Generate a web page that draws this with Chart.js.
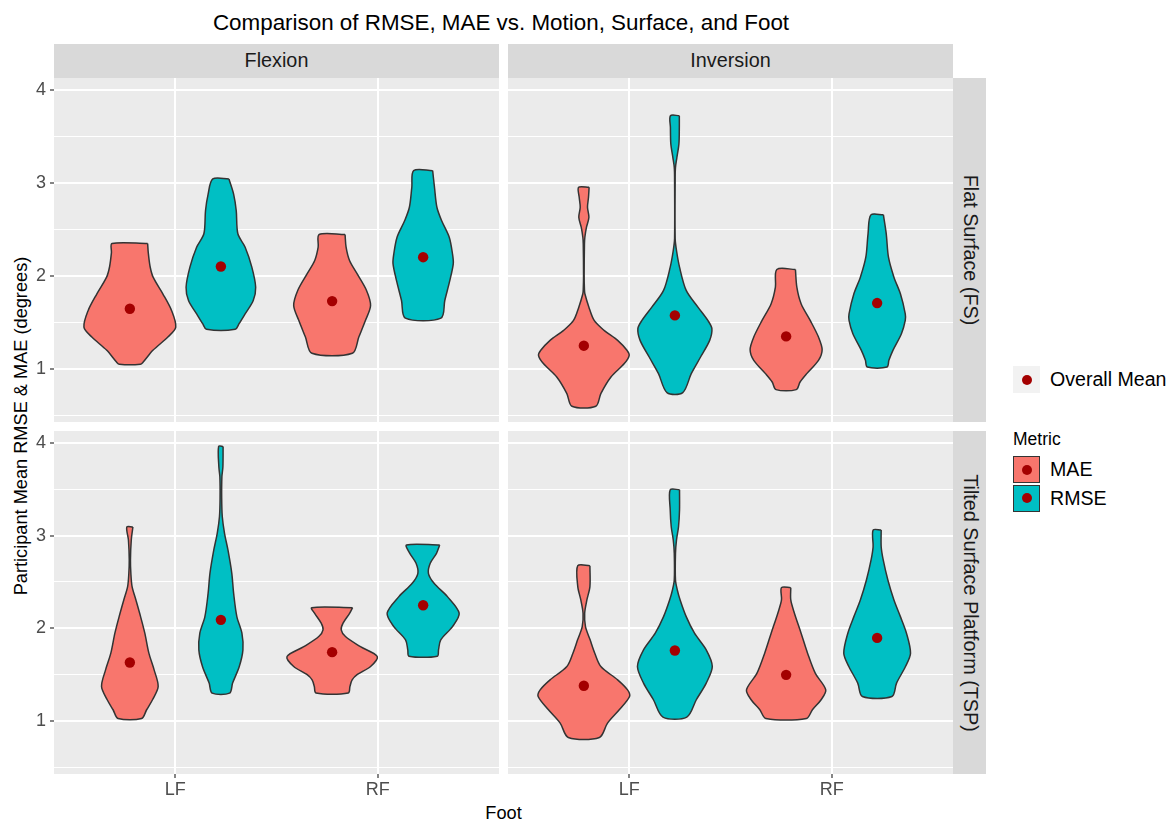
<!DOCTYPE html>
<html>
<head>
<meta charset="utf-8">
<script src="https://cdn.jsdelivr.net/npm/chart.js@4.4.1/dist/chart.umd.min.js"></script>
<style>
html,body{margin:0;padding:0;background:#fff;}
#root{position:relative;width:1175px;height:823px;overflow:hidden;font-family:"Liberation Sans",Arial,sans-serif;color:#1A1A1A;}
canvas{position:absolute;}
.t{position:absolute;white-space:nowrap;line-height:1;}
.c{transform:translate(-50%,-50%);}
.l{transform:translate(0,-50%);}
.strip{position:absolute;background:#D9D9D9;}
.key{position:absolute;width:27px;height:27px;box-sizing:border-box;}
.dot{position:absolute;left:50%;top:50%;width:10px;height:10px;margin:-5px 0 0 -5px;border-radius:50%;background:#A40000;}
</style>
</head>
<body>
<div id="root">
  <div class="t c" style="left:501px;top:23px;font-size:22.4px;color:#000;">Comparison of RMSE, MAE vs. Motion, Surface, and Foot</div>

  <div class="strip" style="left:54px;top:44px;width:445px;height:34px;"></div>
  <div class="strip" style="left:508px;top:44px;width:445px;height:34px;"></div>
  <div class="strip" style="left:953px;top:78px;width:33px;height:344px;"></div>
  <div class="strip" style="left:953px;top:431px;width:33px;height:343px;"></div>
  <div class="t c" id="m0" style="left:276.5px;top:61px;font-size:19.8px;"></div>
  <div class="t c" id="m1" style="left:730.5px;top:61px;font-size:19.8px;"></div>
  <div class="t c" id="s0" style="left:969.5px;top:250px;font-size:19.8px;transform:translate(-50%,-50%) rotate(90deg);"></div>
  <div class="t c" id="s1" style="left:969.5px;top:602.5px;font-size:19.8px;transform:translate(-50%,-50%) rotate(90deg);"></div>

  <div class="t c" style="left:21px;top:426px;font-size:18.2px;color:#000;transform:translate(-50%,-50%) rotate(-90deg);">Participant Mean RMSE &amp; MAE (degrees)</div>
  <div class="t c" style="left:503.5px;top:813px;font-size:18.2px;color:#000;">Foot</div>

  <div class="key" style="left:1013px;top:366px;background:#F2F2F2;"><div class="dot"></div></div>
  <div class="t l" style="left:1050px;top:380px;font-size:19.6px;color:#000;">Overall Mean</div>
  <div class="t l" style="left:1013px;top:439.5px;font-size:17.5px;color:#000;">Metric</div>
  <div class="key" id="k0" style="left:1013px;top:456px;border:1.5px solid #333;"><div class="dot"></div></div>
  <div class="key" id="k1" style="left:1013px;top:484.5px;border:1.5px solid #333;"><div class="dot"></div></div>
  <div class="t l" id="lk0" style="left:1050px;top:470px;font-size:19.6px;color:#000;"></div>
  <div class="t l" id="lk1" style="left:1050px;top:498.5px;font-size:19.6px;color:#000;"></div>

  <canvas id="c0" width="499" height="344" style="left:0;top:78px;"></canvas>
  <canvas id="c1" width="445" height="344" style="left:508px;top:78px;"></canvas>
  <canvas id="c2" width="499" height="373" style="left:0;top:431px;"></canvas>
  <canvas id="c3" width="445" height="373" style="left:508px;top:431px;"></canvas>
</div>
<script>
// ---------- categories / labels ----------
const motions = ['Flexion', 'Inversion'];
const surfaces = ['Flat Surface (FS)', 'Tilted Surface Platform (TSP)'];
const feet = ['LF', 'RF'];
const metrics = ['MAE', 'RMSE'];
const metricColors = ['#F8766D', '#00BFC4'];
const meanColor = '#A40000';
const yTicks = [1, 2, 3, 4];
const yGrid = [0.5, 1, 1.5, 2, 2.5, 3, 3.5, 4];
const yRange = [0.425, 4.13];

// ---------- overall means (order: LF-MAE, LF-RMSE, RF-MAE, RF-RMSE) ----------
const meanFS_Flexion   = [1.645, 2.10, 1.727, 2.20];
const meanFS_Inversion = [1.247, 1.573, 1.347, 1.706];
const meanTSP_Flexion  = [1.629, 2.09, 1.741, 2.248];
const meanTSP_Inversion= [1.378, 1.759, 1.496, 1.895];

// ---------- violin profiles: [value, half-width] from top to bottom ----------
const vFS_Flex_LF_MAE  = [[2.347,0.088],[2.25,0.091],[2.10,0.100],[1.985,0.115],[1.806,0.163],[1.627,0.206],[1.447,0.227],[1.34,0.188],[1.197,0.114],[1.071,0.066],[1.046,0.052]];
const vFS_Flex_LF_RMSE = [[3.043,0.04],[2.88,0.063],[2.70,0.076],[2.452,0.084],[2.308,0.12],[2.093,0.153],[1.877,0.172],[1.734,0.16],[1.59,0.12],[1.484,0.09],[1.423,0.071]];
const vFS_Flex_RF_MAE  = [[2.444,0.064],[2.308,0.069],[2.165,0.086],[2.02,0.124],[1.842,0.17],[1.68,0.19],[1.52,0.165],[1.34,0.132],[1.165,0.10]];
const vFS_Flex_RF_RMSE = [[3.132,0.047],[2.953,0.056],[2.738,0.068],[2.595,0.091],[2.415,0.129],[2.237,0.145],[2.13,0.149],[1.95,0.132],[1.734,0.107],[1.544,0.088]];

const vFS_Inv_LF_MAE  = [[2.953,0.026],[2.845,0.023],[2.738,0.018],[2.63,0.025],[2.523,0.013],[2.415,0.005],[2.344,0.003],[2.0,0.0015],[1.85,0.003],[1.806,0.005],[1.662,0.025],[1.519,0.051],[1.412,0.1],[1.304,0.167],[1.197,0.213],[1.14,0.224],[1.054,0.2],[0.91,0.134],[0.731,0.084],[0.595,0.059]];
const vFS_Inv_LF_RMSE = [[3.724,0.022],[3.598,0.022],[3.42,0.02],[3.275,0.01],[3.168,0.003],[3.06,0.0015],[2.4,0.0015],[2.272,0.008],[2.093,0.023],[1.842,0.056],[1.662,0.114],[1.519,0.163],[1.43,0.183],[1.304,0.172],[1.125,0.127],[0.946,0.081],[0.742,0.039]];
const vFS_Inv_RF_MAE  = [[2.068,0.046],[1.877,0.053],[1.699,0.074],[1.519,0.119],[1.34,0.16],[1.204,0.178],[1.089,0.16],[0.946,0.102],[0.856,0.069],[0.774,0.05]];
const vFS_Inv_RF_RMSE = [[2.656,0.031],[2.452,0.045],[2.2,0.056],[1.985,0.083],[1.806,0.115],[1.59,0.139],[1.519,0.139],[1.376,0.12],[1.197,0.078],[1.089,0.058],[1.017,0.049]];

const vTSP_Flex_LF_MAE  = [[3.093,0.015],[2.953,0.007],[2.737,0.003],[2.593,0.005],[2.449,0.011],[2.305,0.03],[2.125,0.053],[1.946,0.074],[1.73,0.094],[1.55,0.12],[1.37,0.14],[1.227,0.112],[1.119,0.083],[1.025,0.058]];
const vTSP_Flex_LF_RMSE = [[3.963,0.011],[3.743,0.01],[3.635,0.005],[3.4,0.004],[3.204,0.007],[3.025,0.018],[2.845,0.035],[2.593,0.054],[2.378,0.063],[2.125,0.079],[1.946,0.104],[1.766,0.109],[1.586,0.091],[1.407,0.058],[1.299,0.043]];
const vTSP_Flex_RF_MAE  = [[2.222,0.101],[2.162,0.087],[2.054,0.054],[1.982,0.045],[1.91,0.066],[1.8,0.14],[1.694,0.223],[1.586,0.19],[1.5,0.125],[1.442,0.099],[1.37,0.088],[1.299,0.08]];
const vTSP_Flex_RF_RMSE = [[2.899,0.082],[2.809,0.066],[2.701,0.035],[2.593,0.026],[2.485,0.054],[2.341,0.12],[2.162,0.178],[2.017,0.145],[1.874,0.087],[1.766,0.076],[1.698,0.07]];

const vTSP_Inv_LF_MAE  = [[2.675,0.03],[2.449,0.03],[2.305,0.015],[2.162,0.004],[2.017,0.008],[1.874,0.031],[1.73,0.054],[1.586,0.084],[1.442,0.167],[1.334,0.216],[1.262,0.226],[1.119,0.175],[0.975,0.117],[0.82,0.077]];
const vTSP_Inv_LF_RMSE = [[3.495,0.023],[3.276,0.023],[3.096,0.018],[2.953,0.008],[2.81,0.003],[2.52,0.003],[2.413,0.012],[2.305,0.026],[2.125,0.056],[1.946,0.097],[1.766,0.155],[1.586,0.185],[1.407,0.155],[1.227,0.106],[1.04,0.059]];
const vTSP_Inv_RF_MAE  = [[2.438,0.023],[2.305,0.023],[2.162,0.041],[1.946,0.074],[1.73,0.106],[1.514,0.144],[1.334,0.196],[1.227,0.173],[1.119,0.13],[1.025,0.1]];
const vTSP_Inv_RF_RMSE = [[3.06,0.02],[2.88,0.02],[2.737,0.03],[2.521,0.053],[2.305,0.083],[2.125,0.115],[1.946,0.145],[1.73,0.165],[1.586,0.14],[1.407,0.096],[1.262,0.073]];

// ---------- text ----------
document.getElementById('m0').textContent = motions[0];
document.getElementById('m1').textContent = motions[1];
document.getElementById('s0').textContent = surfaces[0];
document.getElementById('s1').textContent = surfaces[1];
document.getElementById('lk0').textContent = metrics[0];
document.getElementById('lk1').textContent = metrics[1];
document.getElementById('k0').style.background = metricColors[0];
document.getElementById('k1').style.background = metricColors[1];

const FONT = '"Liberation Sans", Arial, sans-serif';
const dodge = 0.225;

const panels = [
  {canvas:'c0', left:true,  bottom:false, violins:[vFS_Flex_LF_MAE, vFS_Flex_LF_RMSE, vFS_Flex_RF_MAE, vFS_Flex_RF_RMSE], means:meanFS_Flexion},
  {canvas:'c1', left:false, bottom:false, violins:[vFS_Inv_LF_MAE, vFS_Inv_LF_RMSE, vFS_Inv_RF_MAE, vFS_Inv_RF_RMSE], means:meanFS_Inversion},
  {canvas:'c2', left:true,  bottom:true,  violins:[vTSP_Flex_LF_MAE, vTSP_Flex_LF_RMSE, vTSP_Flex_RF_MAE, vTSP_Flex_RF_RMSE], means:meanTSP_Flexion},
  {canvas:'c3', left:false, bottom:true,  violins:[vTSP_Inv_LF_MAE, vTSP_Inv_LF_RMSE, vTSP_Inv_RF_MAE, vTSP_Inv_RF_RMSE], means:meanTSP_Inversion}
];

function centerOf(k) { // k: 0..3 -> LF-MAE, LF-RMSE, RF-MAE, RF-RMSE
  const foot = Math.floor(k / 2) + 1;
  return foot + (k % 2 === 0 ? -dodge : dodge);
}

function violinPoints(profile, c) {
  const pts = [];
  for (let i = 0; i < profile.length; i++) pts.push({x: c + profile[i][1], y: profile[i][0]});
  for (let i = profile.length - 1; i >= 0; i--) pts.push({x: c - profile[i][1], y: profile[i][0]});
  pts.push({x: c + profile[0][1], y: profile[0][0]});
  return pts;
}

const panelBg = {
  id: 'panelBg',
  beforeDraw(chart) {
    const a = chart.chartArea, ctx = chart.ctx;
    ctx.save(); ctx.fillStyle = '#EBEBEB';
    ctx.fillRect(a.left, a.top, a.right - a.left, a.bottom - a.top);
    ctx.restore();
  }
};

const violinFill = {
  id: 'violinFill',
  beforeDatasetDraw(chart, args) {
    const ds = chart.data.datasets[args.index];
    if (!ds.isViolin) return;
    const meta = args.meta, ctx = chart.ctx, line = meta.dataset;
    const a = chart.chartArea;
    ctx.save();
    ctx.beginPath(); ctx.rect(a.left, a.top, a.right - a.left, a.bottom - a.top); ctx.clip();
    ctx.beginPath();
    let ok = false;
    if (line && typeof line.path === 'function') {
      try {
        if (line.updateControlPoints) line.updateControlPoints(a, 'x');
        line.path(ctx); ok = true;
      } catch (e) { ok = false; }
    }
    if (!ok) {
      ctx.beginPath();
      meta.data.forEach((p, i) => i ? ctx.lineTo(p.x, p.y) : ctx.moveTo(p.x, p.y));
    }
    ctx.closePath();
    ctx.fillStyle = ds.fillColor;
    ctx.fill();
    ctx.restore();
  }
};

panels.forEach(p => {
  const datasets = p.violins.map((prof, k) => ({
    type: 'line',
    isViolin: true,
    fillColor: metricColors[k % 2],
    data: violinPoints(prof, centerOf(k)),
    showLine: true,
    fill: false,
    tension: 0.3,
    borderColor: '#333333',
    borderWidth: 1.5,
    pointRadius: 0,
    pointHoverRadius: 0,
    pointHitRadius: 0,
    order: 2
  }));
  datasets.push({
    type: 'scatter',
    data: p.means.map((m, k) => ({x: centerOf(k), y: m})),
    pointRadius: 5.2,
    pointHoverRadius: 5.2,
    pointBackgroundColor: meanColor,
    pointBorderWidth: 0,
    borderColor: meanColor,
    order: 1
  });

  new Chart(document.getElementById(p.canvas), {
    type: 'scatter',
    data: {datasets},
    options: {
      responsive: false,
      animation: false,
      devicePixelRatio: 1,
      events: [],
      layout: {padding: 0, autoPadding: false},
      plugins: {legend: {display: false}, tooltip: {enabled: false}, title: {display: false}},
      scales: {
        x: {
          type: 'linear', min: 0.4, max: 2.6,
          afterBuildTicks: s => { s.ticks = feet.map((f, i) => ({value: i + 1})); },
          afterFit: s => { s.height = p.bottom ? 30 : 0; s.paddingLeft = 0; s.paddingRight = 0; },
          border: {display: false},
          grid: {color: '#FFFFFF', lineWidth: 2, drawTicks: p.bottom, tickLength: 4, tickColor: '#333333', tickWidth: 1.2},
          ticks: {display: p.bottom, padding: 1, color: '#4D4D4D', font: {size: 18, family: FONT},
                  autoSkip: false, maxRotation: 0,
                  callback: v => feet[Math.round(v) - 1]}
        },
        y: {
          type: 'linear', min: yRange[0], max: yRange[1],
          afterBuildTicks: s => { s.ticks = yGrid.map(v => ({value: v})); },
          afterFit: s => { s.width = p.left ? 54 : 0; s.paddingTop = 0; s.paddingBottom = 0; },
          border: {display: false},
          grid: {
            color: '#FFFFFF',
            lineWidth: c => (c.tick && yTicks.includes(c.tick.value)) ? 2 : 1,
            drawTicks: p.left, tickLength: 4,
            tickColor: c => (c.tick && yTicks.includes(c.tick.value)) ? '#333333' : 'rgba(0,0,0,0)',
            tickWidth: 1.2
          },
          ticks: {display: p.left, padding: 4, color: '#4D4D4D', font: {size: 18, family: FONT},
                  autoSkip: false,
                  callback: v => yTicks.includes(v) ? String(v) : ''}
        }
      }
    },
    plugins: [panelBg, violinFill]
  });
});
</script>
</body>
</html>
